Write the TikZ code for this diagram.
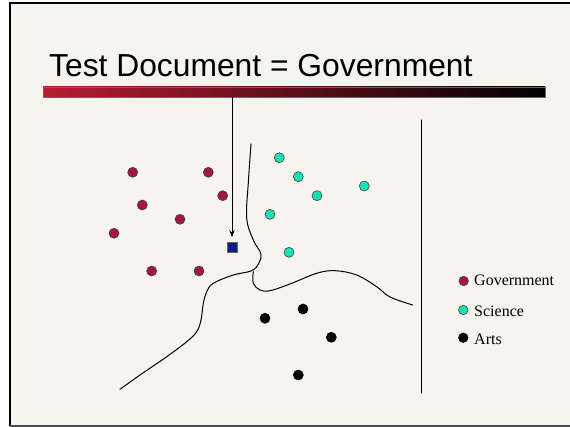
\documentclass[tikz,border=0pt]{standalone}
\usepackage{fontspec}
\setmainfont{Liberation Serif}
\newfontfamily\titlefont{Liberation Sans}
\usetikzlibrary{arrows.meta}
\definecolor{slide}{RGB}{245,244,237}
\definecolor{govred}{RGB}{162,24,62}
\definecolor{scigreen}{RGB}{28,224,180}
\definecolor{barred}{RGB}{184,28,48}
\definecolor{docblue}{RGB}{8,28,140}
\tikzset{
>=Stealth,
dot/.style={circle,inner sep=0pt,minimum size=10pt,draw=black!75,line width=0.6pt},
gov/.style={dot,fill=govred},
sci/.style={dot,fill=scigreen},
arts/.style={dot,fill=black,draw=black},
titlebar/.style={minimum width=502pt,minimum height=10pt,inner sep=0pt,draw=black!60,line width=0.5pt,left color=barred,right color=black},
freccia/.style={->,shorten >=5pt,line width=0.9pt},
confine/.style={line width=1pt,line cap=round},
legenda/.style={anchor=base west,inner sep=0pt,font=\fontsize{16}{18}\selectfont}}

\begin{document}
\begin{tikzpicture}[x=1pt,y=-1pt]
\useasboundingbox (0,0) rectangle (570,427);
\fill[white] (0,0) rectangle (570,427);
\fill[slide] (10,3) rectangle (570,426);
\draw[line width=1.5pt] (570,3) -- (10,3) -- (10,426);
\draw[line width=1.5pt,black!70] (10,426) -- (570,426);

% title and bar
\node[anchor=base west,inner sep=0pt,font=\titlefont\fontsize{31.8}{36}\selectfont] (titolo) at (49,77) {Test Document = Government};
\node[titlebar] (bar) at (294,92) {};

% test document
\node[draw=black!60,fill=docblue,minimum size=10pt,inner sep=0pt,line width=0.6pt] (doc) at (232,247.5) {};
\draw[freccia] (bar.south -| doc.north) -- (doc.north);

% government
\node[gov] (g1) at (132.7,172.3) {};
\node[gov] (g2) at (208.3,172.3) {};
\node[gov] (g3) at (222.7,195.7) {};
\node[gov] (g4) at (142.3,205) {};
\node[gov] (g5) at (180,219.3) {};
\node[gov] (g6) at (114,233.3) {};
\node[gov] (g7) at (151.7,271) {};
\node[gov] (g8) at (199,271) {};

% science
\node[sci] (s1) at (279.3,157.7) {};
\node[sci] (s2) at (298.3,176.7) {};
\node[sci] (s3) at (317,195.7) {};
\node[sci] (s4) at (364.3,186) {};
\node[sci] (s5) at (270,214.3) {};
\node[sci] (s6) at (289,252.3) {};

% arts
\node[arts] (a1) at (303,309) {};
\node[arts] (a2) at (265,318.3) {};
\node[arts] (a3) at (331.3,337.3) {};
\node[arts] (a4) at (298.3,375) {};

% class boundaries
\draw[confine] plot[smooth,tension=0.6] coordinates {(251,144) (248.5,180) (246.7,218) (253.3,240) (260.7,253.3) (259,263) (251.7,270.7) (233.3,275) (213.3,283.3) (206.7,291.7) (203.3,303.3) (201,320) (196.7,331.7) (186.7,341.7) (166.7,356.7) (140,375) (120,389.3)};
\draw[confine] plot[smooth,tension=0.6] coordinates {(253.3,271.7) (253.3,283.3) (260,290) (270,290.7) (290,284) (316.7,273.3) (335,270.7) (356.7,275) (376.7,286.7) (390,297) (412.7,305)};
\draw[confine] (421,120) -- (421,393);

% legend
\node[gov,minimum size=9.5pt] (lg) at (463.7,281) {};
\node[sci,minimum size=9.5pt] (ls) at (463.3,310) {};
\node[arts,minimum size=9.5pt] (la) at (463.3,337.7) {};
\node[legenda] at (474,285.7) {Government};
\node[legenda] at (474,316.7) {Science};
\node[legenda] at (474,344.3) {Arts};
\end{tikzpicture}
\end{document}
